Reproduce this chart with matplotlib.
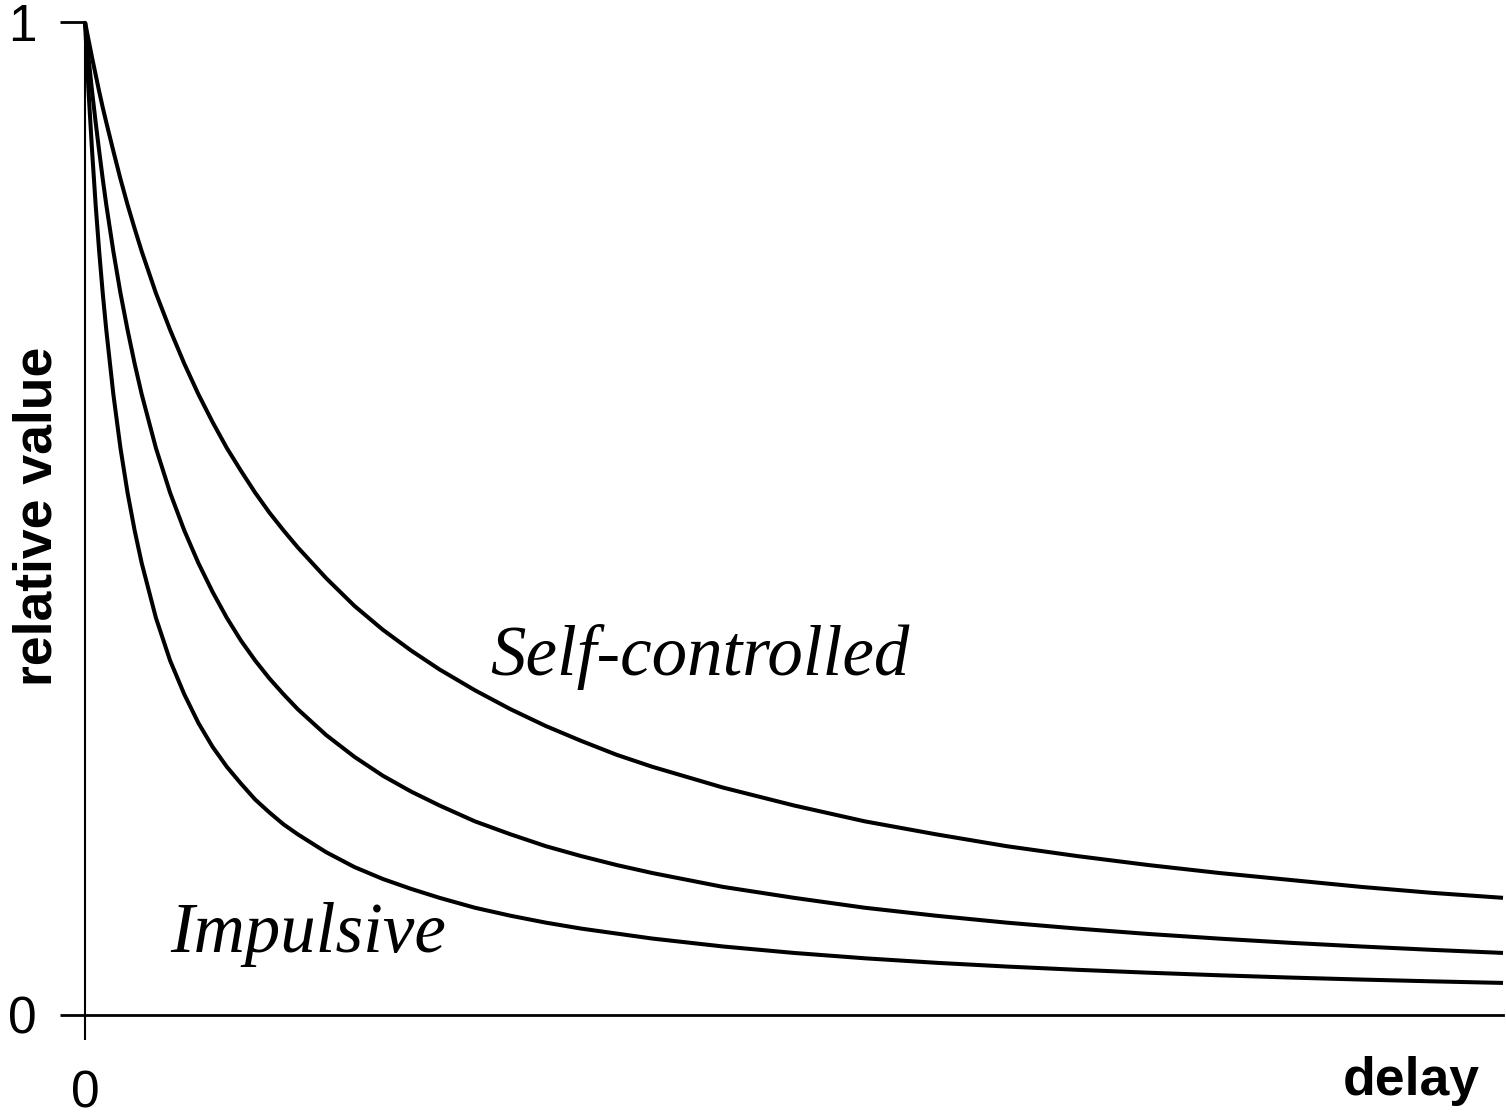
import matplotlib
matplotlib.use("Agg")
import matplotlib.pyplot as plt

# Delay (arbitrary units, 0..100 across the axis) and values
delay = [0, 0.25, 0.5, 0.75, 1, 1.25, 1.5, 2, 2.5, 3, 3.5, 4, 5, 6, 7, 8, 9, 10,
         11, 12, 13, 14, 15, 17, 19, 21, 23, 25, 27.5, 30, 32.5, 35, 37.5, 40,
         45, 50, 55, 60, 65, 70, 75, 80, 85, 90, 95, 100]
self_controlled = [1.000, 0.982, 0.964, 0.947, 0.930, 0.914, 0.899, 0.870, 0.842,
                   0.816, 0.792, 0.769, 0.727, 0.690, 0.656, 0.625, 0.597, 0.571,
                   0.548, 0.526, 0.506, 0.488, 0.471, 0.440, 0.412, 0.388, 0.367,
                   0.348, 0.327, 0.308, 0.291, 0.276, 0.262, 0.250, 0.229, 0.211,
                   0.195, 0.182, 0.170, 0.160, 0.151, 0.143, 0.136, 0.129, 0.123,
                   0.118]
intermediate = [1.000, 0.964, 0.930, 0.899, 0.870, 0.842, 0.816, 0.769, 0.727,
                0.690, 0.656, 0.625, 0.571, 0.526, 0.488, 0.455, 0.426, 0.400,
                0.377, 0.357, 0.339, 0.323, 0.308, 0.282, 0.260, 0.241, 0.225,
                0.211, 0.195, 0.182, 0.170, 0.160, 0.151, 0.143, 0.129, 0.118,
                0.108, 0.100, 0.0930, 0.0870, 0.0816, 0.0769, 0.0727, 0.0690,
                0.0656, 0.0625]
impulsive = [1.000, 0.930, 0.870, 0.816, 0.769, 0.727, 0.690, 0.625, 0.571,
             0.526, 0.488, 0.455, 0.400, 0.357, 0.323, 0.294, 0.270, 0.250,
             0.233, 0.217, 0.204, 0.192, 0.182, 0.164, 0.149, 0.137, 0.127,
             0.118, 0.108, 0.100, 0.093, 0.087, 0.082, 0.077, 0.069, 0.0625,
             0.0571, 0.0526, 0.0488, 0.0455, 0.0426, 0.0400, 0.0377, 0.0357,
             0.0339, 0.0323]

x_ticks = [0]
x_ticklabels = ["0"]
y_ticks = [0, 1]
y_ticklabels = ["0", "1"]

W, H = 1506, 1119
fig = plt.figure(figsize=(W / 100, H / 100), dpi=100)
ax = fig.add_axes([85 / W, 1 - 1015 / H, (1503 - 85) / W, (1015 - 22) / H])

for series in (self_controlled, intermediate, impulsive):
    ax.plot(delay, series, color="black", lw=2.9, solid_capstyle="butt",
            solid_joinstyle="round", clip_on=False)

ax.set_xlim(0, 100)
ax.set_ylim(0, 1)
for s in ("top", "right"):
    ax.spines[s].set_visible(False)
ax.spines["left"].set_linewidth(1.5)
ax.spines["bottom"].set_linewidth(2.0)

ax.set_xticks(x_ticks)
ax.set_xticklabels(x_ticklabels, family="Liberation Sans", fontsize=37)
ax.set_yticks(y_ticks)
ax.set_yticklabels(y_ticklabels, family="Liberation Sans", fontsize=37)
ax.tick_params(axis="x", direction="out", length=18, width=1.5, pad=21)
ax.tick_params(axis="y", direction="out", length=18, width=2.0, pad=17)

fig.text(38 / W, 1 - 516 / H, "relative value", rotation=90, ha="center",
         va="center", family="Liberation Sans", fontweight="bold", fontsize=38.5)
fig.text(1411 / W, 1 - 1081 / H, "delay", ha="center", va="center",
         family="Liberation Sans", fontweight="bold", fontsize=38.5)

ax.text(28.6, 0.342, "Self-controlled", ha="left", va="baseline",
        family="Liberation Serif", style="italic", fontsize=51)
ax.text(6.0, 0.063, "Impulsive", ha="left", va="baseline",
        family="Liberation Serif", style="italic", fontsize=51)

fig.savefig("out.png", dpi=100, facecolor="white")
